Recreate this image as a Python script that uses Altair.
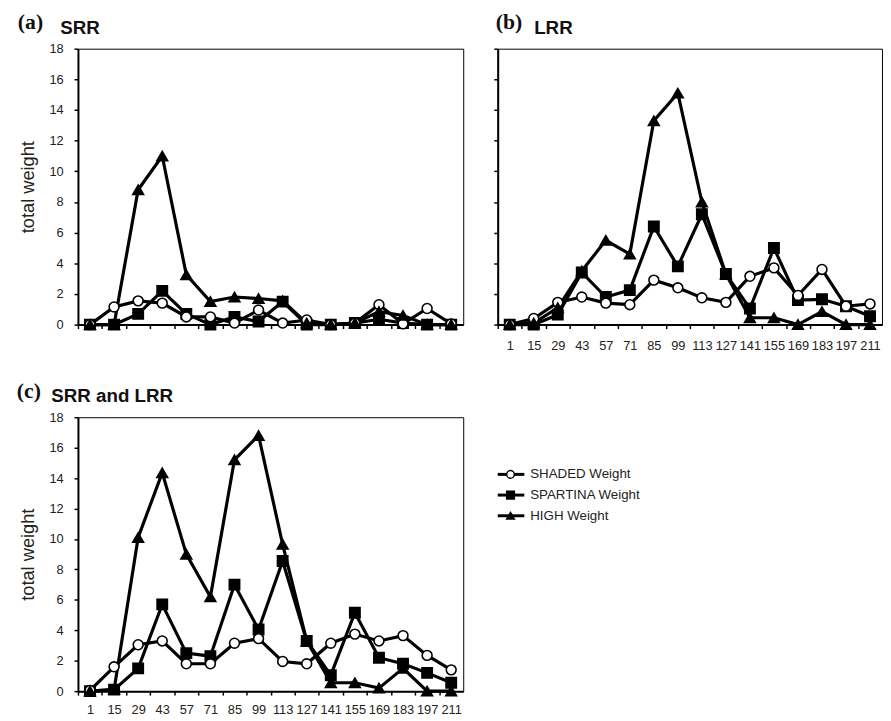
import altair as alt
import pandas as pd

days = [1, 15, 29, 43, 57, 71, 85, 99, 113, 127, 141, 155, 169, 183, 197, 211]
series_order = ["SHADED", "SPARTINA", "HIGH"]
legend_labels = ["SHADED Weight", "SPARTINA Weight", "HIGH Weight"]

# (a) SRR
shaded_srr = [0, 1.15, 1.55, 1.4, 0.5, 0.5, 0.1, 0.95, 0.1, 0.3, 0, 0.1, 1.3, 0.05, 1.05, 0.05]
spartina_srr = [0, 0, 0.7, 2.2, 0.7, 0, 0.5, 0.2, 1.5, 0, 0, 0.1, 0.35, 0.1, 0, 0]
high_srr = [0, 0, 8.8, 11.0, 3.25, 1.5, 1.8, 1.7, 1.55, 0.1, 0, 0.1, 0.85, 0.6, 0, 0]

# (b) LRR
shaded_lrr = [0, 0.4, 1.45, 1.8, 1.4, 1.3, 2.9, 2.4, 1.75, 1.45, 3.15, 3.7, 1.9, 3.6, 1.2, 1.35]
spartina_lrr = [0, 0, 0.65, 3.4, 1.8, 2.25, 6.4, 3.8, 7.2, 3.3, 1.05, 5.0, 1.6, 1.65, 1.2, 0.55]
high_lrr = [0, 0.1, 1.1, 3.5, 5.5, 4.6, 13.3, 15.1, 8.0, 3.3, 0.45, 0.45, 0, 0.85, 0, 0]

# (c) SRR and LRR
shaded_all = [0.05, 1.6, 3.05, 3.3, 1.8, 1.8, 3.15, 3.45, 1.95, 1.8, 3.15, 3.75, 3.3, 3.65, 2.35, 1.4]
spartina_all = [0, 0.1, 1.5, 5.7, 2.5, 2.3, 7.0, 4.05, 8.55, 3.3, 1.05, 5.15, 2.2, 1.8, 1.2, 0.55]
high_all = [0, 0.1, 10.1, 14.35, 9.0, 6.2, 15.2, 16.8, 9.65, 3.3, 0.55, 0.55, 0.2, 1.5, 0, 0]


def long_df(shaded, spartina, high):
    rows = []
    for name, vals in zip(series_order, [shaded, spartina, high]):
        for d, v in zip(days, vals):
            rows.append({"day": d, "series": name, "weight": v})
    return pd.DataFrame(rows)


SANS = "Liberation Sans"
SERIF = "Liberation Serif"

fill_scale = alt.Scale(domain=series_order, range=["white", "black", "black"])
shape_scale = alt.Scale(domain=series_order, range=["circle", "square", "triangle-up"])
size_scale = alt.Scale(domain=series_order, range=[100, 120, 125])


def panel(df, letter, name, letter_dx, name_dx, show_x, show_y, w, h, xpad):
    step = w / len(days)
    x = alt.X(
        "day:O",
        sort=days,
        scale=alt.Scale(type="point", padding=0.5),
        axis=alt.Axis(
            title=None, labelAngle=0, labels=show_x, tickSize=4, tickWidth=1.5,
            tickOffset=-step / 2, labelOffset=step / 2, domainWidth=2,
            labelFontSize=13, labelPadding=xpad, labelFont=SANS, labelColor="#222",
        ),
    )
    y = alt.Y(
        "weight:Q",
        scale=alt.Scale(domain=[0, 18], nice=False),
        axis=alt.Axis(
            values=list(range(0, 19, 2)), title="total weight" if show_y else None,
            labels=show_y, tickSize=4, tickWidth=1.5, domainWidth=2, grid=False,
            labelFontSize=13, labelPadding=11, labelFont=SANS, labelColor="#222",
            titleFont=SANS, titleFontSize=18.5, titleFontWeight="normal",
            titlePadding=11.5, titleColor="#222",
        ),
    )
    base = alt.Chart(df)
    lines = base.mark_line(color="black", strokeWidth=3.2).encode(
        x=x, y=y, detail="series:N"
    )
    pts = base.mark_point(filled=True, opacity=1, stroke="black", strokeWidth=1.6).encode(
        x=x, y=y,
        fill=alt.Fill("series:N", scale=fill_scale, legend=None),
        shape=alt.Shape("series:N", scale=shape_scale, legend=None),
        size=alt.Size("series:N", scale=size_scale, legend=None),
        order=alt.Order("series:N", sort="descending"),
    )
    t1 = alt.Chart(pd.DataFrame({"t": [letter]})).mark_text(
        font=SERIF, fontSize=22, fontWeight="bold", align="left", baseline="alphabetic",
        color="#111",
    ).encode(text="t:N", x=alt.value(letter_dx), y=alt.value(-20))
    t2 = alt.Chart(pd.DataFrame({"t": [name]})).mark_text(
        font=SANS, fontSize=19, fontWeight="bold", align="left", baseline="alphabetic",
        color="#111",
    ).encode(text="t:N", x=alt.value(name_dx), y=alt.value(-15))
    return alt.layer(lines, pts, t1, t2).properties(width=w, height=h)


pa = panel(long_df(shaded_srr, spartina_srr, high_srr), "(a)", "SRR", -61, -18, False, True, 391, 280, 11)
pb = panel(long_df(shaded_lrr, spartina_lrr, high_lrr), "(b)", "LRR", -2, 37, True, False, 390, 280, 11)
pc = panel(long_df(shaded_all, spartina_all, high_all), "(c)", "SRR and LRR", -62, -27, True, True, 391, 278, 9)

leg_df = pd.DataFrame({"series": series_order, "label": legend_labels})
leg_y = alt.Y("series:N", sort=series_order, axis=None,
              scale=alt.Scale(type="point", range=[58, 100], padding=0))
leg_base = alt.Chart(leg_df)
leg_rule = leg_base.mark_rule(color="black", strokeWidth=3).encode(
    x=alt.value(0), x2=alt.value(27), y=leg_y
)
leg_pts = leg_base.mark_point(filled=True, opacity=1, stroke="black", strokeWidth=1.5).encode(
    x=alt.value(13), y=leg_y,
    fill=alt.Fill("series:N", scale=fill_scale, legend=None),
    shape=alt.Shape("series:N", scale=shape_scale, legend=None),
    size=alt.value(60),
)
leg_txt = leg_base.mark_text(font=SANS, fontSize=13.5, align="left", baseline="middle",
                             color="#222").encode(
    x=alt.value(33), y=leg_y, text="label:N"
)
legend = alt.layer(leg_rule, leg_pts, leg_txt).properties(
    width=150, height=140, view=alt.ViewConfig(stroke=None)
)

row1 = alt.hconcat(pa, pb, spacing=28).resolve_scale(x="independent", y="independent")
row2 = alt.hconcat(pc, legend, spacing=32).resolve_scale(
    x="independent", y="independent", fill="independent", shape="independent", size="independent"
)
chart = alt.vconcat(row1, row2, spacing=26).resolve_scale(
    x="independent", y="independent", fill="independent", shape="independent", size="independent"
).properties(
    padding={"left": 8, "top": -3, "right": 0, "bottom": 0}, background="white"
).configure_view(stroke="black", strokeWidth=1).configure_axis(
    domainColor="black", tickColor="black"
)

chart.save("out.html", embed_options={"renderer": "svg", "actions": False})
